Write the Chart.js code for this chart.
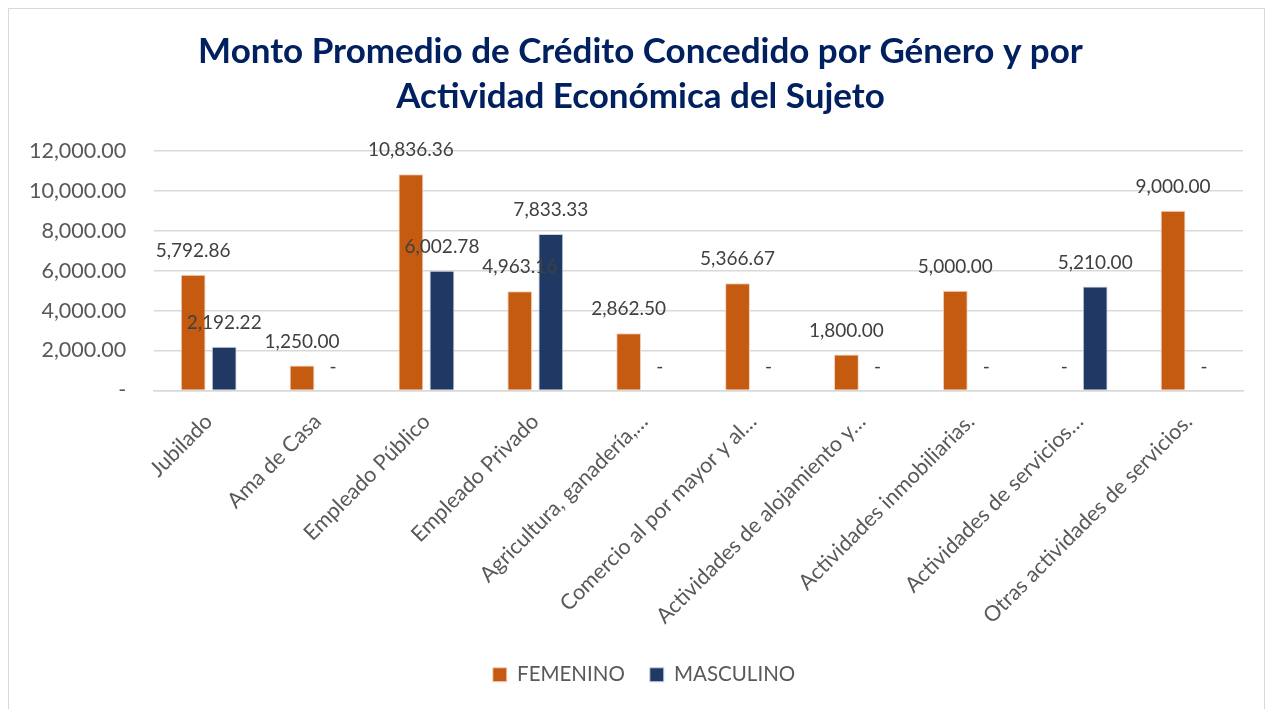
<!DOCTYPE html>
<html>
<head>
<meta charset="utf-8">
<script src="https://cdn.jsdelivr.net/npm/chart.js@4"></script>
<style>
  html, body { margin: 0; padding: 0; background: #fff; }
  #wrap { position: absolute; left: 8px; top: 8px; width: 1257px; height: 720px; border: 1px solid #d9d9d9; box-sizing: border-box; }
  #chart { position: absolute; left: -9px; top: -9px; }
</style>
</head>
<body>
<div id="wrap"><canvas id="chart" width="1273" height="709"></canvas></div>
<script>
const categories = ["Jubilado", "Ama de Casa", "Empleado Público", "Empleado Privado", "Agricultura, ganadería,…",
  "Comercio al por mayor y al…", "Actividades de alojamiento y…", "Actividades inmobiliarias.",
  "Actividades de servicios…", "Otras actividades de servicios."];
const femenino = [5792.86, 1250.00, 10836.36, 4963.16, 2862.50, 5366.67, 1800.00, 5000.00, 0, 9000.00];
const masculino = [2192.22, 0, 6002.78, 7833.33, 0, 0, 0, 0, 5210.00, 0];
const titleLines = ['Monto Promedio de Crédito Concedido por Género y por', 'Actividad Económica del Sujeto'];

const fmt = v => v === 0 ? '-' : v.toLocaleString('en-US', { minimumFractionDigits: 2, maximumFractionDigits: 2 });
const FONT = 'Lato, "Open Sans", sans-serif';

// value labels above each bar, title centred on the canvas, legend nudged right
const extras = {
  id: 'extras',
  afterLayout(chart) {
    chart.legend.left += 22;
    chart.legend.right += 22;
  },
  afterDraw(chart) {
    const ctx = chart.ctx;
    ctx.save();
    ctx.textAlign = 'center';
    ctx.textBaseline = 'middle';
    ctx.font = 'bold 35px ' + FONT;
    ctx.fillStyle = '#002060';
    titleLines.forEach((t, i) => ctx.fillText(t, chart.width / 2 + 4, 52 + i * 45));
    ctx.restore();
  },
  afterDatasetsDraw(chart) {
    const ctx = chart.ctx;
    ctx.save();
    ctx.font = '19px ' + FONT;
    ctx.fillStyle = '#404040';
    ctx.textAlign = 'center';
    ctx.textBaseline = 'middle';
    chart.data.datasets.forEach((ds, i) => {
      chart.getDatasetMeta(i).data.forEach((bar, j) => {
        ctx.fillText(fmt(ds.data[j]), bar.x, bar.y - 24);
      });
    });
    ctx.restore();
  }
};

new Chart(document.getElementById('chart').getContext('2d'), {
  type: 'bar',
  data: {
    labels: categories,
    datasets: [{
      label: 'FEMENINO',
      data: femenino,
      backgroundColor: '#C55A11',
      borderColor: '#f4d2bb',
      borderWidth: 1
    }, {
      label: 'MASCULINO',
      data: masculino,
      backgroundColor: '#203864',
      borderColor: '#c9d2e3',
      borderWidth: 1
    }]
  },
  options: {
    responsive: false,
    animation: false,
    layout: { padding: { left: 1, right: 30, top: 151, bottom: 14 } },
    categoryPercentage: 0.57,
    barPercentage: 0.8,
    plugins: {
      title: { display: false },
      legend: {
        position: 'bottom',
        labels: {
          color: '#595959',
          font: { family: FONT, size: 20.5 },
          boxWidth: 14,
          boxHeight: 14,
          padding: 25
        }
      },
      tooltip: { enabled: false }
    },
    scales: {
      x: {
        grid: { display: false },
        border: { color: '#d9d9d9', width: 1.5 },
        ticks: {
          color: '#595959',
          padding: 10.5,
          font: { family: FONT, size: 21.5 },
          minRotation: 45,
          maxRotation: 45,
          autoSkip: false
        }
      },
      y: {
        min: 0,
        max: 12000,
        grid: { color: '#d9d9d9', lineWidth: 1.5, drawTicks: false },
        border: { display: false },
        ticks: {
          stepSize: 2000,
          color: '#595959',
          padding: 28,
          font: { family: FONT, size: 21.5 },
          callback: v => fmt(v)
        }
      }
    }
  },
  plugins: [extras]
});
</script>
</body>
</html>
